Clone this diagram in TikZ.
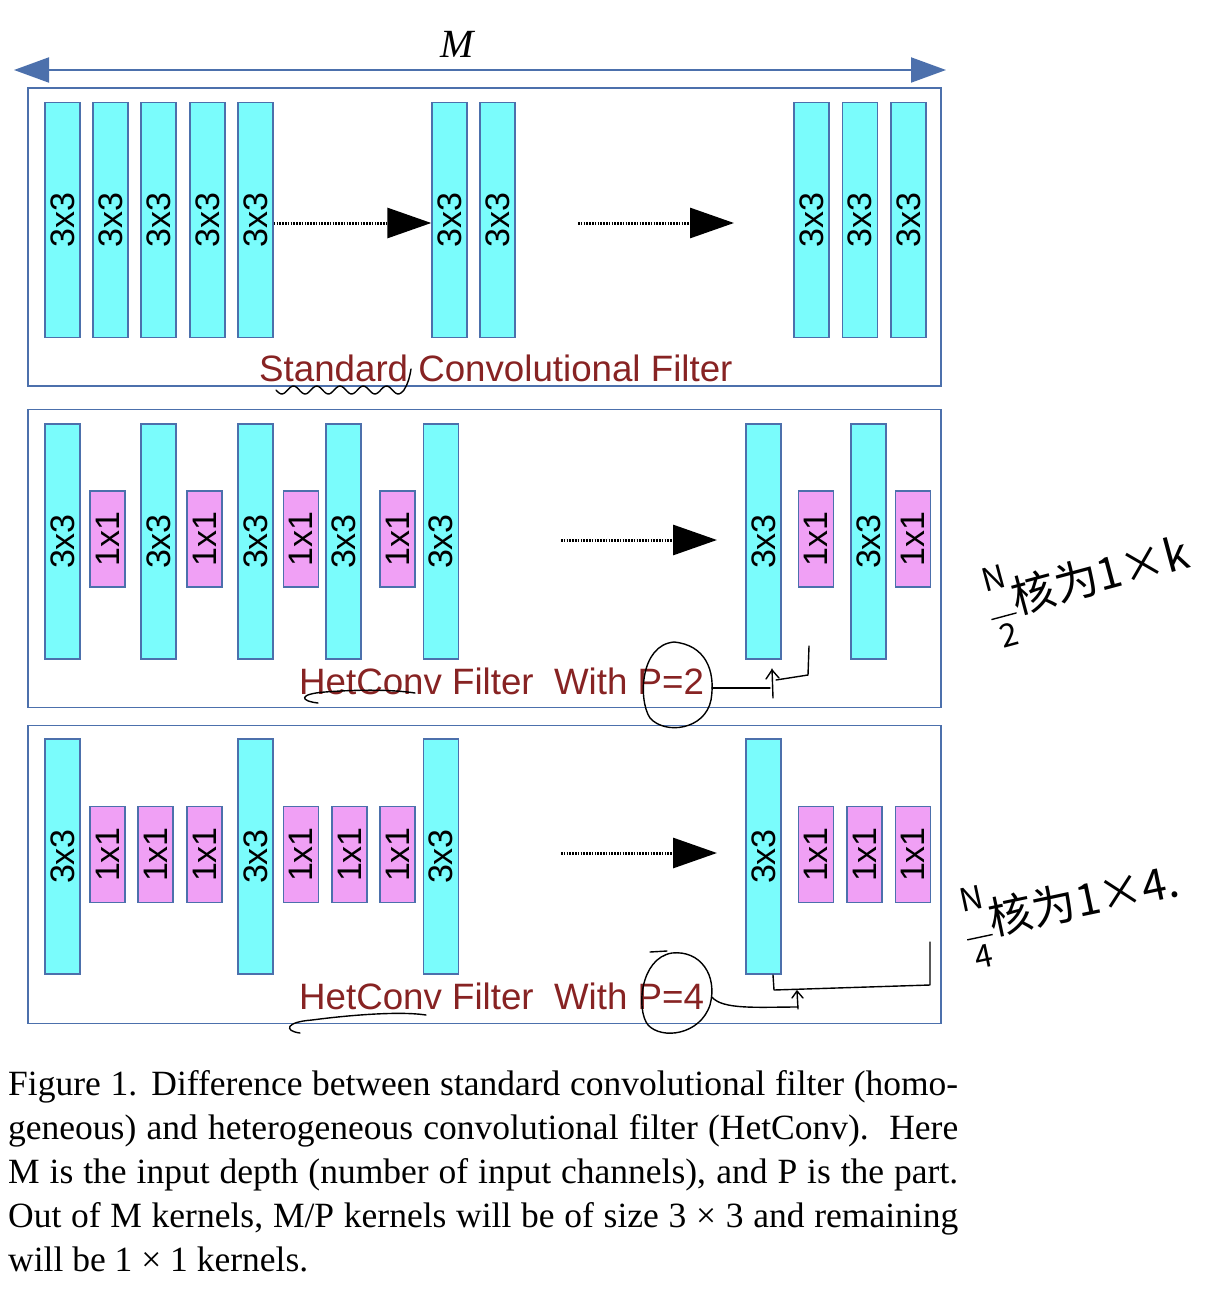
\documentclass[tikz,border=0pt]{standalone}
\usepackage{fontspec}
\setmainfont{Liberation Serif}
\setsansfont{Liberation Sans}
\newfontfamily\cjk{Noto Sans CJK SC}
\usetikzlibrary{arrows.meta}
\definecolor{cyanfill}{RGB}{122,252,252}
\definecolor{pinkfill}{RGB}{240,160,245}
\definecolor{edgeblue}{RGB}{76,112,172}
\definecolor{darkred}{RGB}{135,35,35}
\newcommand{\handfrac}[2]{{\fontsize{32}{32}\selectfont\begin{tabular}{@{}c@{}}#1\\[-4pt]\rule{26pt}{1.4pt}\\[-2pt]#2\end{tabular}}}
\begin{document}
\begin{tikzpicture}[x=1pt,y=-1pt,
  panel/.style={draw=edgeblue, line width=1.6pt, minimum width=913pt, minimum height=298pt, inner sep=0pt},
  kbig/.style={draw=edgeblue, fill=cyanfill, line width=1.4pt, rotate=90, minimum width=235pt, minimum height=35pt, inner sep=0pt, font=\sffamily\fontsize{34}{34}\selectfont},
  ksmall/.style={draw=edgeblue, fill=pinkfill, line width=1.4pt, rotate=90, minimum width=96pt, minimum height=35pt, inner sep=0pt, font=\sffamily\fontsize{34}{34}\selectfont},
  flow/.style={line width=3pt, dash pattern=on 1.6pt off 1.2pt, -{Triangle[length=44pt,width=30pt]}},
  paneltitle/.style={anchor=base west, inner sep=0pt, text=darkred, font=\sffamily\fontsize{36.7}{36.7}\selectfont},
  hand/.style={line width=1.4pt, black, line cap=round, line join=round},
  handnote/.style={inner sep=0pt, font=\cjk\fontsize{44}{44}\selectfont},
  captext/.style={anchor=base west, inner sep=0pt, font=\fontsize{35.5}{44}\selectfont}]
\useasboundingbox (0,0) rectangle (1210,1300);

% width arrow M
\coordinate (ml) at (14,70);
\coordinate (mr) at (946,70);
\draw[edgeblue, line width=2pt, {Triangle[length=35pt,width=25pt]}-{Triangle[length=35pt,width=25pt]}] (ml) -- (mr);
\node[inner sep=0pt, font=\itshape\fontsize{40}{40}\selectfont] (mlab) at (457,44) {M};

% panels
\node[panel] (p1) at (484.5,237) {};
\node[panel] (p2) at (484.5,558.5) {};
\node[panel] (p3) at (484.5,874.5) {};

% ---- panel 1
\foreach \n/\x in {a1/62.5,a2/110.5,a3/158.5,a4/207.5,a5/255.5,a6/449.5,a7/497.5,a8/811.5,a9/860,a10/908.5}
  \node[kbig] (\n) at (\x,220) {3x3};
\draw[flow] ([yshift=-3pt]a5.south) -- ([yshift=-3pt]a6.north);
\coordinate (f1s) at (578,223);
\coordinate (f1e) at (734,223);
\draw[flow] (f1s) -- (f1e);
\node[paneltitle] (t1) at (259,381) {Standard Convolutional Filter};

% ---- panel 2
\foreach \n/\x in {b1/62.5,b3/158.5,b5/255.5,b7/343.5,b9/441,b11/763.5,b13/868.5}
  \node[kbig] (\n) at (\x,541.5) {3x3};
\foreach \n/\x in {b2/107.5,b4/204.5,b6/301,b8/397.5,b12/816,b14/913}
  \node[ksmall] (\n) at (\x,539) {1x1};
\coordinate (f2s) at (561,540);
\coordinate (f2e) at (717,540);
\draw[flow] (f2s) -- (f2e);
\node[paneltitle] (t2) at (299,694) {HetConv Filter\ \ With P=2};

% ---- panel 3
\foreach \n/\x in {c1/62.5,c5/255.5,c9/441,c11/763.5}
  \node[kbig] (\n) at (\x,856.5) {3x3};
\foreach \n/\x in {c2/107.5,c3/155.5,c4/204.5,c6/301,c7/349.5,c8/397.5,c12/816,c13/864.5,c14/913}
  \node[ksmall] (\n) at (\x,854.5) {1x1};
\coordinate (f3s) at (561,853);
\coordinate (f3e) at (717,853);
\draw[flow] (f3s) -- (f3e);
\node[paneltitle] (t3) at (299,1009) {HetConv Filter\ \ With P=4};

% ---- handwritten marks
\draw[hand] plot[domain=0:1, samples=80] ({276+128*\x}, {390+4*sin(\x*5.5*360)}) .. controls (408,384) and (410,376) .. (411,369);
\draw[hand] (318,703) .. controls (300,701) and (298,694) .. (325,692) .. controls (365,689) and (395,690) .. (415,693);
\draw[hand] (674,642) .. controls (640,645) and (638,700) .. (650,718) .. controls (665,735) and (705,730) .. (711,700) .. controls (716,670) and (705,645) .. (674,642);
\draw[hand] (712,688) -- (770,688);
\draw[hand] (773,698) -- (772,669);
\draw[hand] (766,679) -- (772,670) -- (779,678);
\draw[hand] (776,680) -- (808,675) -- (809,646);

\draw[hand] (300,1033) .. controls (284,1031) and (285,1022) .. (312,1020) .. controls (350,1015) and (400,1011) .. (426,1015);
\draw[hand] (672,953) .. controls (640,958) and (636,1010) .. (648,1025) .. controls (662,1040) and (700,1035) .. (710,1005) .. controls (718,975) and (700,950) .. (672,953);
\draw[hand] (650,952) -- (667,951);
\draw[hand] (712,997) .. controls (722,1010) and (760,1007) .. (798,1007);
\draw[hand] (798,1009) -- (797,991);
\draw[hand] (792,998) -- (797,991) -- (803,998);
\draw[hand] (773,975) -- (774,990) -- (930,985) -- (930,942);

\node[handnote, rotate=15, anchor=west] (n1) at (990,615) {\handfrac{N}{2}核为1×k};
\node[handnote, rotate=12, anchor=west] (n2) at (966,935) {\handfrac{N}{4}核为1×4.};

% ---- caption
\node[captext] (l1) at (8,1095) {\makebox[950pt][s]{Figure 1. Difference between standard convolutional filter (homo-}};
\node[captext] (l2) at (8,1139) {\makebox[950pt][s]{geneous) and heterogeneous convolutional filter (HetConv).\ \ Here}};
\node[captext] (l3) at (8,1183) {\makebox[950pt][s]{M is the input depth (number of input channels), and P is the part.}};
\node[captext] (l4) at (8,1227) {\makebox[950pt][s]{Out of M kernels, M/P kernels will be of size 3 × 3 and remaining}};
\node[captext] (l5) at (8,1271) {will be 1 × 1 kernels.};
\end{tikzpicture}
\end{document}
